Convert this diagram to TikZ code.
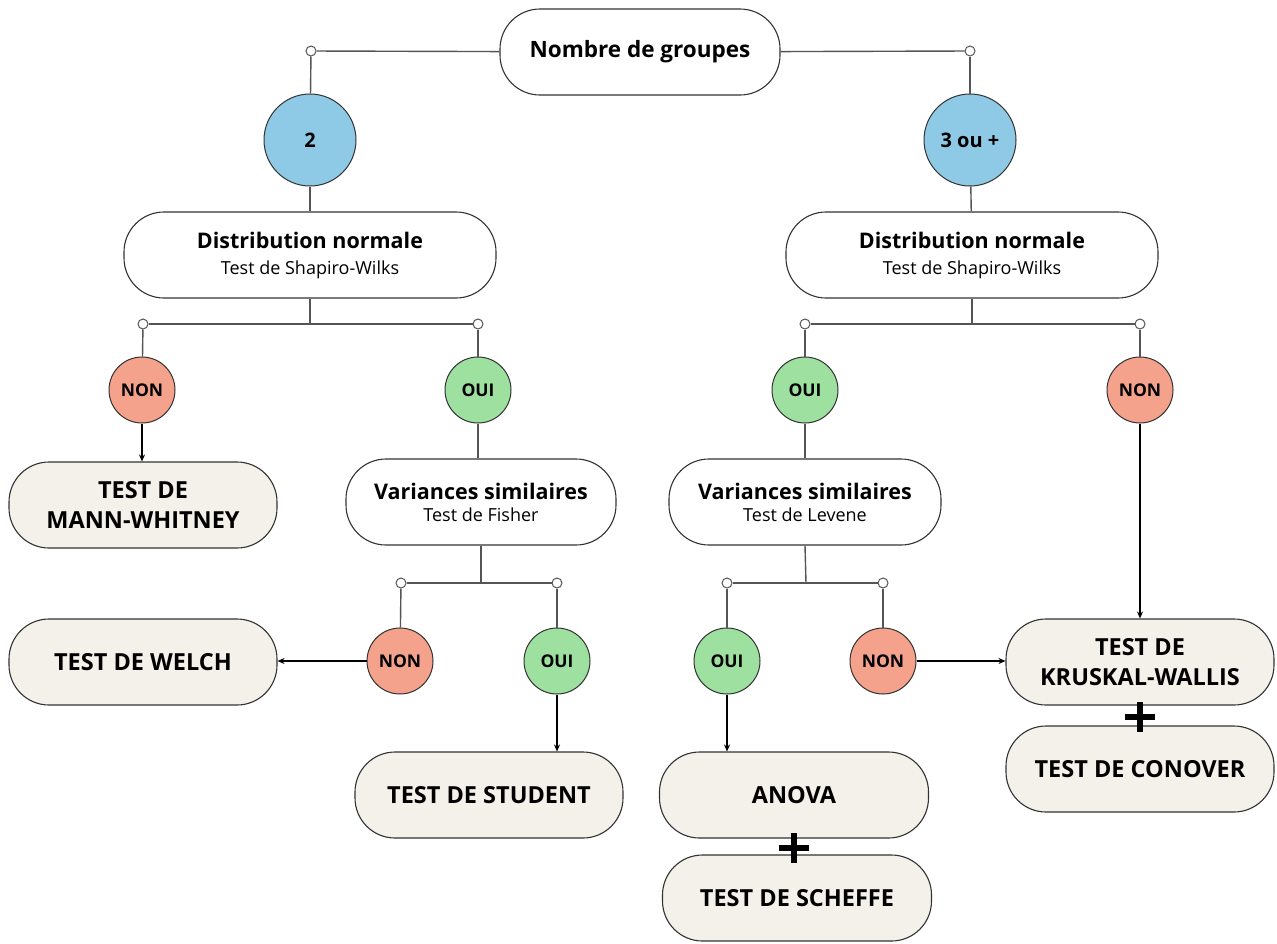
\documentclass[tikz,border=0pt]{standalone}
\usepackage{fontspec}
\setmainfont{Open Sans}
\usetikzlibrary{arrows.meta}
\definecolor{cblue}{HTML}{8ECAE6}
\definecolor{csalmon}{HTML}{F4A28C}
\definecolor{cgreen}{HTML}{9DE0A0}
\definecolor{cbeige}{HTML}{F4F0EA}
\definecolor{cedge}{HTML}{333333}
\definecolor{cline}{HTML}{555555}
\newcommand{\subfont}{\fontsize{18}{21}\selectfont}
\begin{document}
\begin{tikzpicture}[x=1pt,y=-1pt,
  box/.style={draw=cedge, line width=1.1pt, rounded corners=40pt, minimum height=86pt, inner sep=0pt, align=center, fill=white},
  question/.style={box, font=\fontsize{21.5}{26}\selectfont},
  final/.style={box, fill=cbeige, font=\fontsize{23.5}{30}\selectfont\bfseries},
  circ/.style={circle, draw=cedge, line width=1pt, minimum size=66pt, inner sep=0pt, font=\fontsize{17.5}{20}\selectfont\bfseries},
  bigcirc/.style={circ, fill=cblue, minimum size=92pt, font=\fontsize{20}{24}\selectfont\bfseries},
  yes/.style={circ, fill=cgreen},
  no/.style={circ, fill=csalmon},
  dot/.style={circle, draw=cline, fill=white, minimum size=10pt, inner sep=0pt, line width=1pt},
  conn/.style={draw=cline, line width=1.4pt},
  arr/.style={draw=black, line width=1.4pt, -{Stealth[length=7pt,width=6pt]}},
  plusline/.style={draw=black, line width=5.5pt}
]
\useasboundingbox[fill=white] (0,0) rectangle (1277,943);

% top
\node[box, minimum width=280pt, font=\fontsize{22.5}{26}\selectfont\bfseries] (top) at (640,52) {Nombre de groupes};
\node[dot] (d1) at (311,51) {};
\node[dot] (d2) at (970,51) {};
\node[bigcirc] (c2) at (310,140) {2};
\node[bigcirc] (c3) at (970,140) {3 ou +};
\draw[conn] (top) -- (d1);
\draw[conn] (top) -- (d2);
\draw[conn] (d1) -- (c2);
\draw[conn] (d2) -- (c3);

% distribution boxes
\node[question, minimum width=372pt] (dist1) at (310,255) {\textbf{Distribution normale}\\[0pt]{\subfont Test de Shapiro-Wilks}};
\node[question, minimum width=372pt] (dist2) at (972,255) {\textbf{Distribution normale}\\[0pt]{\subfont Test de Shapiro-Wilks}};
\draw[conn] (c2) -- (dist1);
\draw[conn] (c3) -- (dist2);

% fork under dist1
\coordinate (j1) at (310,324);
\node[dot] (e1) at (143,324) {};
\node[dot] (e2) at (478,324) {};
\draw[conn] (dist1.south) -- (j1);
\draw[conn] (e1) -- (e2);
% fork under dist2
\coordinate (j2) at (972,324);
\node[dot] (e3) at (805,324) {};
\node[dot] (e4) at (1140,324) {};
\draw[conn] (dist2.south) -- (j2);
\draw[conn] (e3) -- (e4);

\node[no] (n1) at (142,390) {NON};
\node[yes] (o1) at (478,390) {OUI};
\node[yes] (o2) at (805,390) {OUI};
\node[no] (n2) at (1140,390) {NON};
\draw[conn] (e1) -- (n1);
\draw[conn] (e2) -- (o1);
\draw[conn] (e3) -- (o2);
\draw[conn] (e4) -- (n2);

% level 3
\node[final, minimum width=268pt] (mw) at (143,505) {TEST DE\\MANN-WHITNEY};
\node[question, minimum width=270pt] (v1) at (481,502) {\textbf{Variances similaires}\\[-4pt]{\subfont Test de Fisher}};
\node[question, minimum width=272pt] (v2) at (805,502) {\textbf{Variances similaires}\\[-4pt]{\subfont Test de Levene}};
\draw[arr] (n1.south) -- (n1.south |- mw.north);
\draw[conn] (o1.south) -- (o1.south |- v1.north);
\draw[conn] (o2.south) -- (o2.south |- v2.north);

% fork under v1
\coordinate (j3) at (481,583);
\node[dot] (f1) at (401,583) {};
\node[dot] (f2) at (557,583) {};
\draw[conn] (v1.south) -- (j3);
\draw[conn] (f1) -- (f2);
% fork under v2
\coordinate (j4) at (806,583);
\node[dot] (f3) at (727,583) {};
\node[dot] (f4) at (883,583) {};
\draw[conn] (v2.south) -- (j4);
\draw[conn] (f3) -- (f4);

\node[no] (n3) at (400,661) {NON};
\node[yes] (o3) at (557,661) {OUI};
\node[yes] (o4) at (727,661) {OUI};
\node[no] (n4) at (883,661) {NON};
\draw[conn] (f1) -- (n3);
\draw[conn] (f2) -- (o3);
\draw[conn] (f3) -- (o4);
\draw[conn] (f4) -- (n4);

% final tests
\node[final, minimum width=268pt] (welch) at (143,662) {TEST DE WELCH};
\node[final, minimum width=268pt] (stud) at (489,795) {TEST DE STUDENT};
\node[final, minimum width=269pt] (anova) at (794,795) {ANOVA};
\node[final, minimum width=269pt] (scheffe) at (797,898) {TEST DE SCHEFFE};
\node[final, minimum width=268pt] (kw) at (1140,662) {TEST DE\\KRUSKAL-WALLIS};
\node[final, minimum width=268pt] (conover) at (1140,769) {TEST DE CONOVER};

\draw[arr] (n2.south) -- (n2.south |- kw.north);
\draw[arr] (n3.west) -- (n3.west -| welch.east);
\draw[arr] (o3.south) -- (o3.south |- stud.north);
\draw[arr] (o4.south) -- (o4.south |- anova.north);
\draw[arr] (n4.east) -- (n4.east -| kw.west);

% plus signs
\draw[plusline] (779,848) -- (809,848) (794,833) -- (794,863);
\draw[plusline] (1125,717) -- (1155,717) (1140,702) -- (1140,732);
\end{tikzpicture}
\end{document}
